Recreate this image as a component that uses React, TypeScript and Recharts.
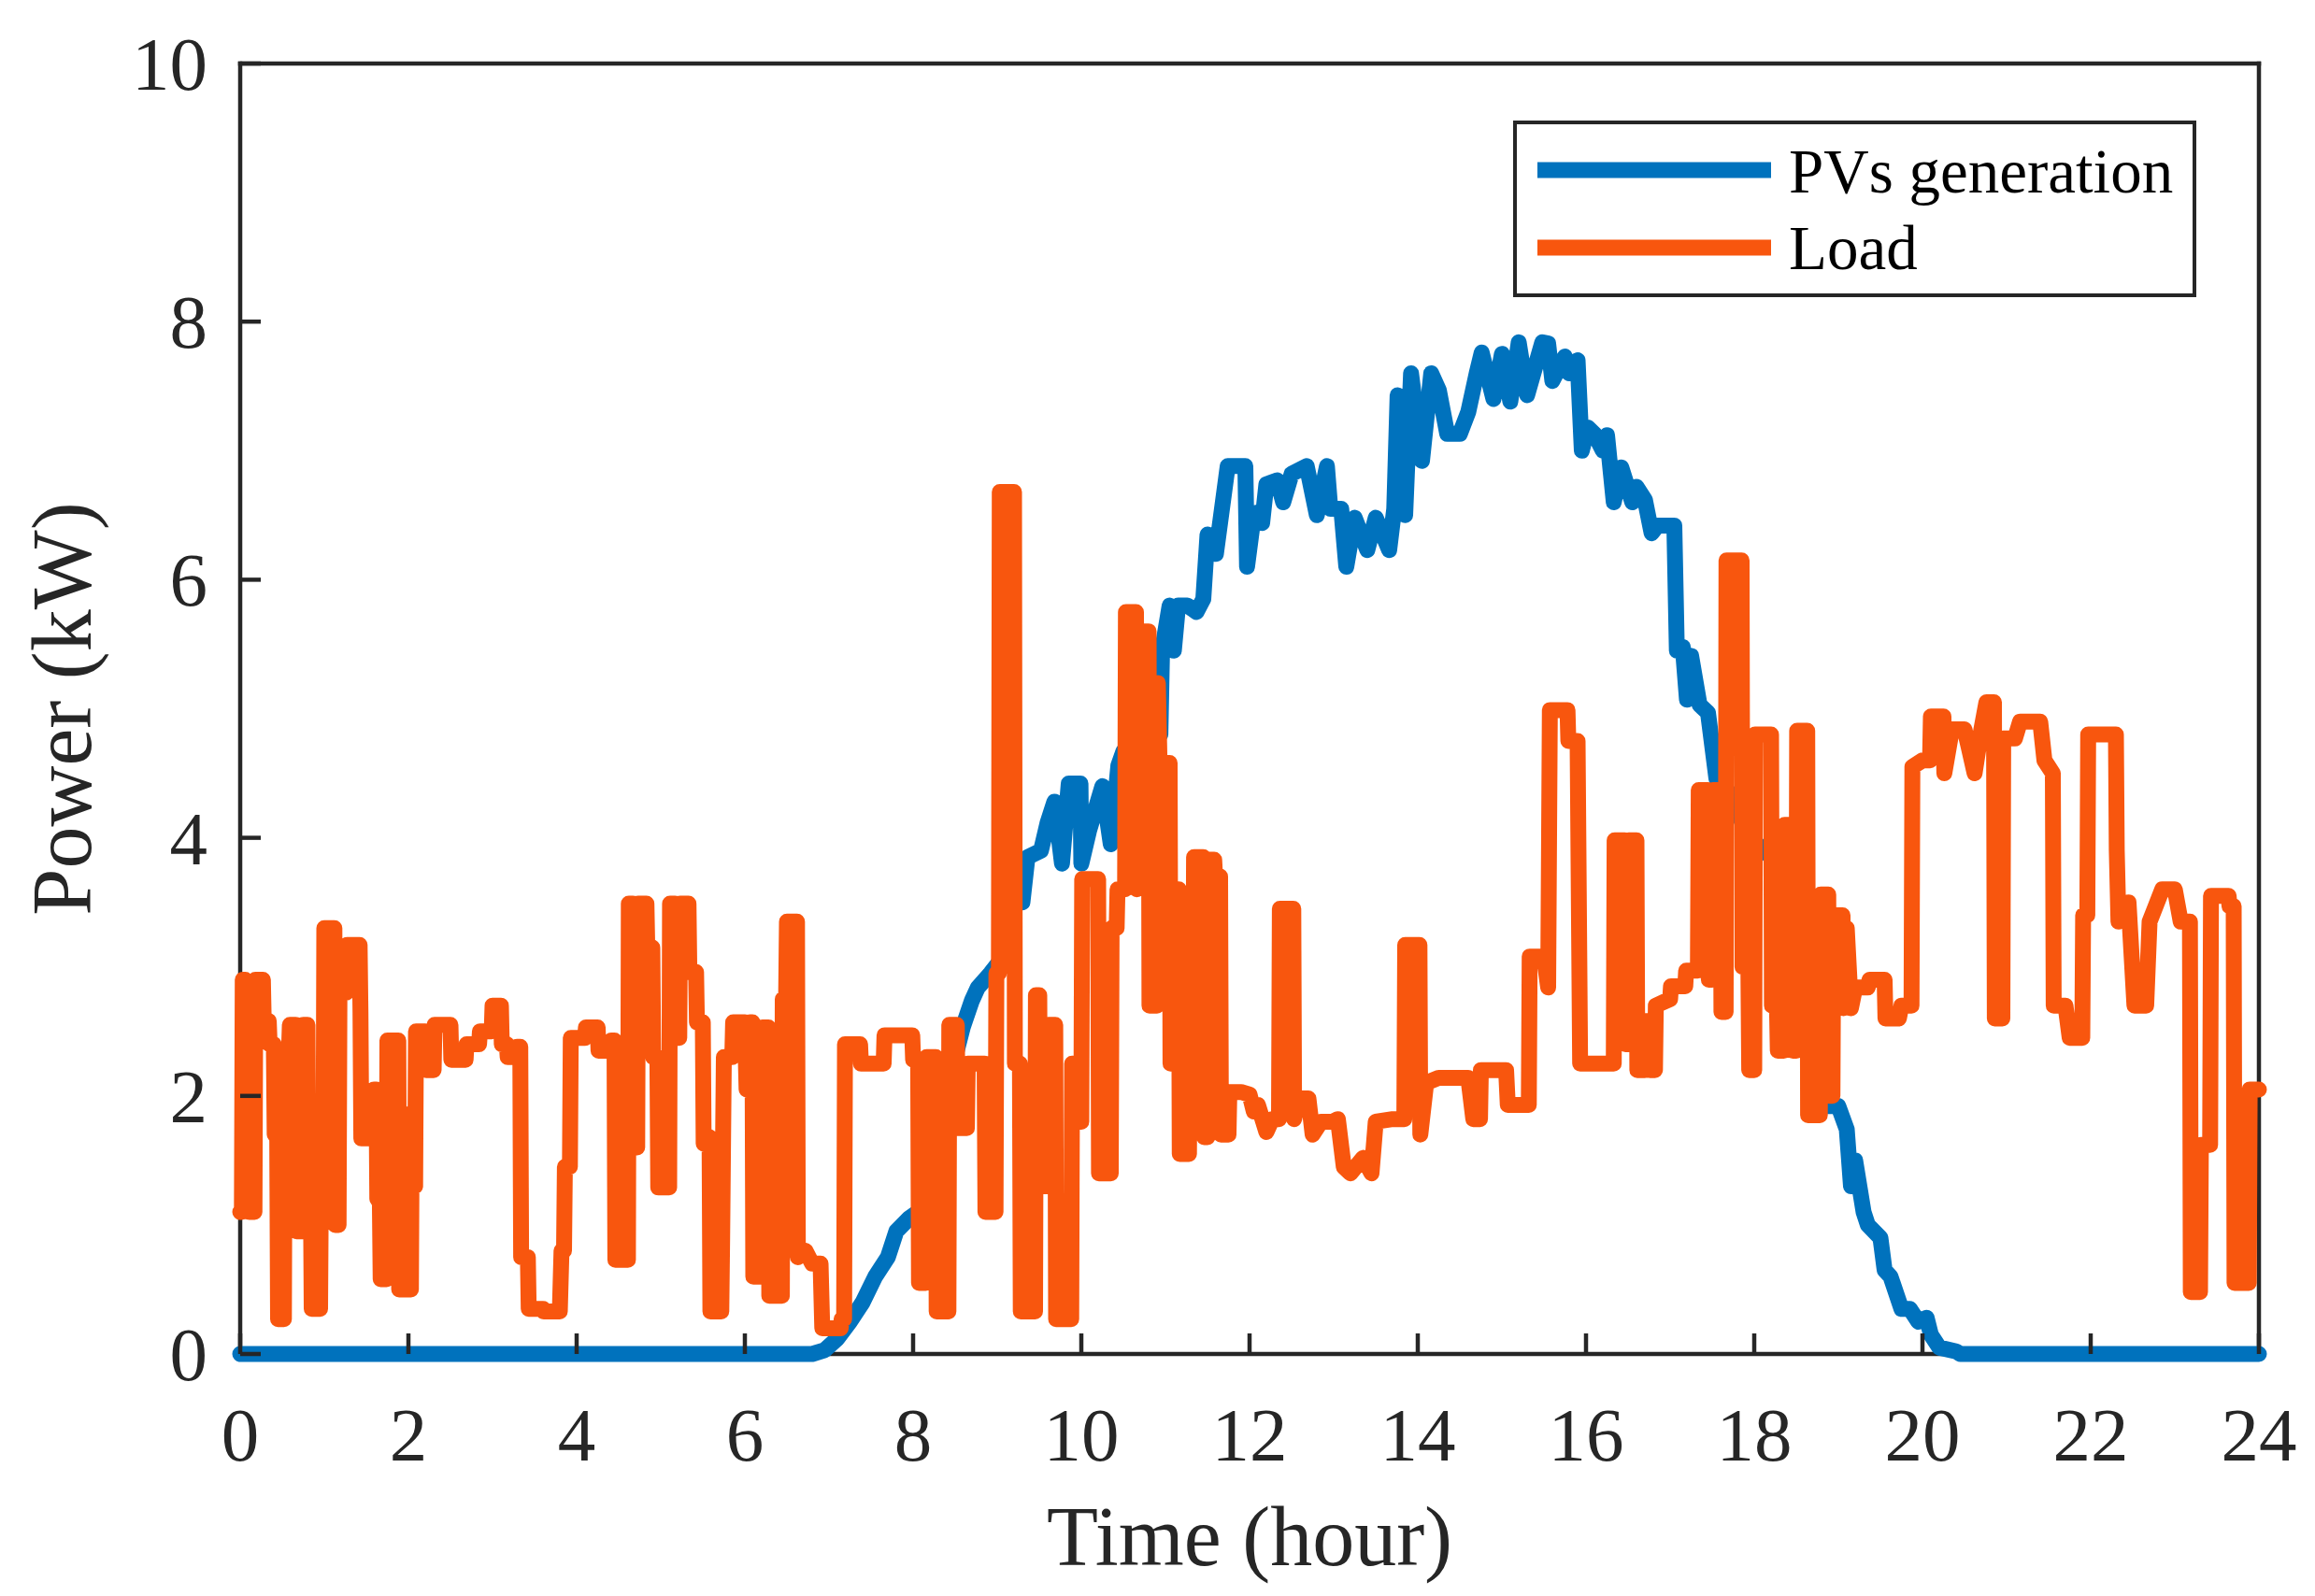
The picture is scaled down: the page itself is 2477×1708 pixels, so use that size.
import React from 'react';
import { LineChart, Line, XAxis, YAxis } from 'recharts';

// axis ticks
const hourTicks = [0, 2, 4, 6, 8, 10, 12, 14, 16, 18, 20, 22, 24];
const kwTicks = [0, 2, 4, 6, 8, 10];

// series
const seriesNames = ['PVs generation', 'Load'];
const seriesColors = ['#0072BD', '#F8560E'];

// PV generation (kW) vs time (hour)
const pvHours = [
  0, 6.8, 6.95, 7.1, 7.25, 7.4, 7.55, 7.7, 7.8, 7.95, 8.1, 8.2, 8.35, 8.5, 8.59, 8.7, 8.77, 8.92,
  9.1, 9.25, 9.3, 9.36, 9.52, 9.6, 9.68, 9.77, 9.85, 9.99, 10.0, 10.09, 10.25, 10.35, 10.44, 10.5,
  10.7, 10.94, 10.96, 11.05, 11.1, 11.15, 11.26, 11.37, 11.45, 11.5, 11.6, 11.74, 11.95, 11.97,
  12.05, 12.09, 12.15, 12.2, 12.33, 12.4, 12.5, 12.68, 12.8, 12.92, 12.96, 13.09, 13.15, 13.25,
  13.4, 13.5, 13.66, 13.72, 13.76, 13.85, 13.92, 14.05, 14.16, 14.25, 14.35, 14.5, 14.6, 14.7,
  14.76, 14.9, 15.0, 15.1, 15.2, 15.3, 15.48, 15.55, 15.6, 15.75, 15.8, 15.9, 15.95, 16.02, 16.1,
  16.2, 16.25, 16.33, 16.42, 16.55, 16.6, 16.7, 16.78, 16.85, 17.05, 17.08, 17.15, 17.2, 17.25,
  17.35, 17.45, 17.55, 17.7, 17.85, 17.95, 18.2, 18.3, 18.4, 18.55, 18.65, 18.74, 19.0, 19.1,
  19.15, 19.2, 19.3, 19.35, 19.5, 19.55, 19.62, 19.75, 19.85, 19.95, 20.05, 20.1, 20.2, 20.4,
  20.45, 24,
];
const pvKw = [
  0, 0, 0.03, 0.12, 0.25, 0.4, 0.6, 0.75, 0.95, 1.05, 1.12, 1.5, 2.0, 2.3, 2.53, 2.74, 2.84, 2.95,
  3.1, 3.6, 3.5, 3.85, 3.9, 4.12, 4.28, 3.8, 4.42, 4.42, 3.8, 4.05, 4.4, 3.95, 4.56, 4.67,
  4.78, 4.8, 5.45, 5.8, 5.45, 5.8, 5.8, 5.75, 5.85, 6.35, 6.2, 6.88, 6.88, 6.1,
  6.5, 6.52, 6.44, 6.74, 6.77, 6.6, 6.82, 6.88, 6.5, 6.88, 6.55, 6.55, 6.1, 6.48,
  6.23, 6.48, 6.23, 6.55, 7.43, 6.5, 7.6, 6.92, 7.6, 7.47, 7.13, 7.13, 7.3, 7.6,
  7.76, 7.4, 7.75, 7.38, 7.84, 7.43, 7.84, 7.83, 7.54, 7.73, 7.6, 7.7, 7.0, 7.18, 7.13,
  7.0, 7.12, 6.6, 6.87, 6.6, 6.72, 6.62, 6.36, 6.42, 6.42, 5.45, 5.48, 5.07, 5.41,
  5.03, 4.97, 4.46, 4.35, 4.13, 4.0, 3.85, 3.8, 3.3, 2.7, 2.3, 1.92, 1.92, 1.74,
  1.3, 1.5, 1.1, 1.0, 0.9, 0.65, 0.6, 0.35, 0.35, 0.25, 0.28, 0.15, 0.05, 0.02,
  0, 0,
];

// household load (kW) vs time (hour)
const loadHours = [
  0, 0.02, 0.03, 0.06, 0.07, 0.09, 0.11, 0.17, 0.18, 0.27, 0.28, 0.34, 0.35, 0.4, 0.41, 0.44,
  0.45, 0.52, 0.53, 0.58, 0.59, 0.66, 0.67, 0.74, 0.75, 0.8, 0.81, 0.84, 0.85, 0.95, 0.96, 0.99,
  1.0, 1.12, 1.13, 1.17, 1.18, 1.26, 1.27, 1.42, 1.43, 1.44, 1.58, 1.59, 1.62, 1.63, 1.66, 1.67,
  1.74, 1.75, 1.88, 1.89, 2.03, 2.04, 2.06, 2.08, 2.09, 2.2, 2.21, 2.3, 2.31, 2.5, 2.51, 2.68,
  2.69, 2.84, 2.85, 2.99, 3.0, 3.1, 3.11, 3.17, 3.18, 3.28, 3.29, 3.33, 3.34, 3.42, 3.43, 3.6,
  3.61, 3.8, 3.82, 3.85, 3.86, 3.92, 3.93, 4.1, 4.11, 4.25, 4.26, 4.4, 4.41, 4.45, 4.46, 4.61,
  4.62, 4.67, 4.68, 4.72, 4.73, 4.83, 4.84, 4.9, 4.91, 4.96, 4.97, 5.1, 5.11, 5.17, 5.18, 5.22,
  5.23, 5.33, 5.34, 5.42, 5.43, 5.5, 5.51, 5.58, 5.59, 5.72, 5.73, 5.75, 5.85, 5.86, 6.0, 6.02,
  6.05, 6.06, 6.09, 6.1, 6.2, 6.21, 6.28, 6.29, 6.44, 6.45, 6.49, 6.5, 6.62, 6.63, 6.72, 6.8,
  6.9, 6.92, 7.14, 7.15, 7.18, 7.19, 7.37, 7.38, 7.65, 7.66, 7.99, 8.0, 8.06, 8.07, 8.15, 8.16,
  8.27, 8.28, 8.42, 8.43, 8.52, 8.53, 8.64, 8.65, 8.85, 8.86, 8.98, 8.99, 9.02, 9.03, 9.2, 9.21,
  9.27, 9.28, 9.45, 9.46, 9.5, 9.51, 9.6, 9.61, 9.69, 9.7, 9.88, 9.89, 9.95, 9.96, 10.0, 10.01,
  10.2, 10.21, 10.35, 10.36, 10.42, 10.43, 10.52, 10.53, 10.65, 10.66, 10.68, 10.8, 10.81, 10.9,
  10.91, 10.93, 11.05, 11.06, 11.12, 11.13, 11.16, 11.17, 11.28, 11.29, 11.33, 11.34, 11.45,
  11.46, 11.5, 11.51, 11.58, 11.59, 11.65, 11.66, 11.75, 11.76, 11.9, 12.0, 12.05, 12.1, 12.2,
  12.27, 12.35, 12.36, 12.52, 12.53, 12.58, 12.7, 12.75, 12.85, 12.99, 13.05, 13.12, 13.2, 13.35,
  13.45, 13.5, 13.7, 13.84, 13.85, 14.02, 14.03, 14.1, 14.25, 14.6, 14.66, 14.74, 14.75, 15.05,
  15.07, 15.32, 15.33, 15.5, 15.55, 15.57, 15.78, 15.79, 15.9, 15.93, 16.33, 16.34, 16.46, 16.47,
  16.5, 16.51, 16.6, 16.61, 16.7, 16.71, 16.75, 16.76, 16.82, 16.83, 17.0, 17.01, 17.18, 17.19,
  17.33, 17.34, 17.45, 17.46, 17.5, 17.51, 17.6, 17.61, 17.66, 17.67, 17.85, 17.86, 17.93, 17.94,
  18.0, 18.01, 18.2, 18.21, 18.27, 18.28, 18.35, 18.36, 18.45, 18.46, 18.5, 18.51, 18.63, 18.64,
  18.78, 18.79, 18.88, 18.89, 18.93, 18.94, 19.05, 19.06, 19.1, 19.15, 19.2, 19.35, 19.37, 19.55,
  19.56, 19.72, 19.75, 19.87, 19.88, 20.0, 20.09, 20.1, 20.25, 20.26, 20.35, 20.5, 20.55, 20.62,
  20.7, 20.76, 20.85, 20.86, 20.95, 20.96, 21.1, 21.16, 21.4, 21.45, 21.55, 21.56, 21.7, 21.75,
  21.9, 21.91, 21.96, 21.97, 22.3, 22.31, 22.33, 22.45, 22.52, 22.66, 22.7, 22.76, 22.85, 23.0,
  23.07, 23.18, 23.19, 23.3, 23.31, 23.42, 23.43, 23.64, 23.65, 23.7, 23.71, 23.88, 23.89, 24.0,
];
const loadKw = [
  1.1, 1.1, 2.9, 2.9, 1.7, 2.5, 1.1, 1.1, 2.9, 2.9, 2.58, 2.58, 2.4, 2.4, 1.7, 1.7,
  0.27, 0.27, 2.35, 2.35, 2.55, 2.55, 0.95, 0.95, 2.55, 2.55, 1.3, 1.3, 0.35, 0.35, 1.4, 1.4,
  3.3, 3.3, 1.0, 1.0, 2.8, 2.8, 3.17, 3.17, 2.65, 1.67, 1.67, 2.05, 2.05, 1.2, 1.2, 0.58,
  0.58, 2.43, 2.43, 0.5, 0.5, 1.87, 1.3, 1.3, 2.5, 2.5, 2.2, 2.2, 2.55, 2.55, 2.28, 2.28,
  2.4, 2.4, 2.5, 2.5, 2.7, 2.7, 2.4, 2.4, 2.3, 2.3, 2.38, 2.38, 0.75, 0.75, 0.35, 0.35,
  0.33, 0.33, 0.8, 0.8, 1.45, 1.45, 2.45, 2.45, 2.53, 2.53, 2.35, 2.35, 2.43, 2.43, 0.73, 0.73,
  3.49, 3.49, 1.6, 1.6, 3.49, 3.49, 3.15, 3.15, 2.3, 2.3, 1.29, 1.29, 3.49, 3.49, 2.45, 2.45,
  3.49, 3.49, 2.96, 2.96, 2.57, 2.57, 1.63, 1.68, 0.33, 0.33, 0.9, 2.3, 2.3, 2.57, 2.57, 2.05,
  2.05, 2.57, 2.57, 0.6, 0.6, 2.53, 2.53, 0.45, 0.45, 2.75, 2.75, 3.35, 3.35, 0.75, 0.8, 0.7,
  0.7, 0.2, 0.2, 0.27, 0.27, 2.4, 2.4, 2.25, 2.25, 2.47, 2.47, 2.28, 2.28, 0.55, 0.55, 2.3,
  2.3, 0.33, 0.33, 2.55, 2.55, 1.75, 1.75, 2.25, 2.25, 1.1, 1.1, 2.95, 2.95, 6.68, 6.68, 2.25,
  2.25, 0.33, 0.33, 2.78, 2.78, 1.3, 1.3, 2.55, 2.55, 0.27, 0.27, 2.25, 2.25, 1.8, 1.8, 3.68,
  3.68, 1.4, 1.4, 3.3, 3.3, 3.6, 3.6, 5.75, 5.75, 3.6, 5.6, 5.6, 2.7, 2.7,
  5.2, 4.58, 4.58, 2.25, 2.25, 3.6, 3.6, 1.55, 1.55, 2.5, 2.5, 3.85, 3.85,
  1.68, 1.68, 3.83, 3.83, 3.7, 3.7, 1.7, 1.7, 2.03, 2.03, 2.01, 1.88, 1.93, 1.72,
  1.82, 1.82, 3.45, 3.45, 1.82, 1.98, 1.98, 1.7, 1.8, 1.8, 1.82, 1.45, 1.4, 1.52,
  1.4, 1.8, 1.82, 1.82, 3.17, 3.17, 1.7, 2.1, 2.14, 2.14, 1.82, 1.82, 2.2, 2.2,
  1.93, 1.93, 3.08, 3.08, 2.84, 4.99, 4.99, 4.75, 4.75, 2.25, 2.25, 3.98, 3.98, 2.4,
  2.4, 3.98, 3.98, 2.2, 2.2, 2.58, 2.58, 2.2, 2.2, 2.7, 2.75, 2.85, 2.85, 2.97,
  2.97, 4.37, 4.37, 2.9, 2.9, 4.37, 4.37, 2.65, 2.65, 6.15, 6.15, 3.0, 3.0, 2.2,
  2.2, 4.8, 4.8, 2.7, 2.7, 2.35, 2.35, 4.1, 4.1, 2.35, 2.35, 4.83, 4.83, 1.85,
  1.85, 3.56, 3.56, 2.0, 2.0, 3.4, 3.4, 2.68, 3.3, 2.68, 2.84, 2.84, 2.9, 2.9,
  2.6, 2.6, 2.7, 2.7, 4.55, 4.6, 4.6, 4.94, 4.94, 4.5, 4.84, 4.84, 4.7, 4.5,
  4.84, 5.05, 5.05, 2.6, 2.6, 4.77, 4.77, 4.9, 4.9, 4.6, 4.5, 2.7, 2.7, 2.45,
  2.45, 3.4, 3.4, 4.8, 4.8, 3.9, 3.35, 3.5, 2.7, 2.7, 3.35, 3.45, 3.6, 3.6,
  3.35, 3.35, 0.48, 0.48, 1.62, 1.62, 3.55, 3.55, 3.47, 3.47, 0.55, 0.55, 2.05, 2.05,
];

const pvData = pvHours.map((t, i) => ({ t, v: pvKw[i] }));
const loadData = loadHours.map((t, i) => ({ t, v: loadKw[i] }));
const seriesData = [pvData, loadData];

const W = 2461;
const H = 1692;
const FONT = '"Liberation Serif", "Times New Roman", Times, serif';
const INK = '#262626';
const TICK_LEN = 22;
const AXIS_W = 4.5;
const TICK_FONT = 81;
const TITLE_FONT = 90;
const LINE_W = 17;

function BottomTick({ x, y, payload }: any) {
  return (
    <g>
      <line x1={x} x2={x} y1={y} y2={y - TICK_LEN} stroke={INK} strokeWidth={AXIS_W} />
      <text x={x} y={y + 114} textAnchor="middle" fontSize={TICK_FONT} fontFamily={FONT} fill={INK}>
        {payload.value}
      </text>
    </g>
  );
}

function TopTick({ x, y }: any) {
  return <line x1={x} x2={x} y1={y} y2={y + TICK_LEN} stroke={INK} strokeWidth={AXIS_W} />;
}

function LeftTick({ x, y, payload }: any) {
  return (
    <g>
      <line x1={x} x2={x + TICK_LEN} y1={y} y2={y} stroke={INK} strokeWidth={AXIS_W} />
      <text x={x - 35} y={y + 28} textAnchor="end" fontSize={TICK_FONT} fontFamily={FONT} fill={INK}>
        {payload.value}
      </text>
    </g>
  );
}

function RightTick({ x, y }: any) {
  return <line x1={x} x2={x - TICK_LEN} y1={y} y2={y} stroke={INK} strokeWidth={AXIS_W} />;
}

function XTitle({ viewBox }: any) {
  return (
    <text
      x={viewBox.x + viewBox.width / 2}
      y={viewBox.y + 226}
      textAnchor="middle"
      fontSize={TITLE_FONT}
      fontFamily={FONT}
      fill={INK}
    >
      Time (hour)
    </text>
  );
}

function YTitle({ viewBox }: any) {
  const cx = viewBox.x + viewBox.width - 160;
  const cy = viewBox.y + viewBox.height / 2;
  return (
    <text
      x={cx}
      y={cy}
      transform={`rotate(-90, ${cx}, ${cy})`}
      textAnchor="middle"
      fontSize={TITLE_FONT}
      fontFamily={FONT}
      fill={INK}
    >
      Power (kW)
    </text>
  );
}

function LegendBox() {
  return (
    <svg
      width={731}
      height={189}
      style={{ position: 'absolute', left: 1611, top: 121, overflow: 'visible' }}
    >
      <rect x={2} y={2} width={727} height={185} fill="#fff" stroke={INK} strokeWidth={4} />
      {seriesNames.map((name, i) => (
        <g key={name}>
          <line x1={26} x2={276} y1={53 + i * 83} y2={53 + i * 83} stroke={seriesColors[i]} strokeWidth={LINE_W} />
          <text x={295} y={77 + i * 82} fontSize={67} fontFamily={FONT} fill="#000">
            {name}
          </text>
        </g>
      ))}
    </svg>
  );
}

export default function App() {
  const axisLine = { stroke: INK, strokeWidth: AXIS_W, strokeLinecap: 'square' as const };
  return (
    <div style={{ position: 'relative', width: W, height: H, fontFamily: FONT, background: '#fff' }}>
      <LineChart width={W} height={H} margin={{ top: 59, right: 51, bottom: 250, left: 248 }}>
        <XAxis
          xAxisId="x"
          dataKey="t"
          type="number"
          domain={[0, 24]}
          ticks={hourTicks}
          interval={0}
          height={1}
          tickSize={0}
          tickMargin={0}
          tickLine={false}
          axisLine={axisLine}
          tick={BottomTick}
          label={XTitle}
        />
        <XAxis
          xAxisId="top"
          orientation="top"
          dataKey="t"
          type="number"
          domain={[0, 24]}
          ticks={hourTicks}
          interval={0}
          height={1}
          tickSize={0}
          tickMargin={0}
          tickLine={false}
          axisLine={axisLine}
          tick={TopTick}
        />
        <YAxis
          yAxisId="y"
          type="number"
          domain={[0, 10]}
          ticks={kwTicks}
          interval={0}
          width={1}
          tickSize={0}
          tickMargin={0}
          tickLine={false}
          axisLine={axisLine}
          tick={LeftTick}
          label={YTitle}
        />
        <YAxis
          yAxisId="right"
          orientation="right"
          type="number"
          domain={[0, 10]}
          ticks={kwTicks}
          interval={0}
          width={1}
          tickSize={0}
          tickMargin={0}
          tickLine={false}
          axisLine={axisLine}
          tick={RightTick}
        />
        {seriesNames.map((name, i) => (
          <Line
            key={name}
            name={name}
            data={seriesData[i]}
            dataKey="v"
            xAxisId="x"
            yAxisId="y"
            type="linear"
            stroke={seriesColors[i]}
            strokeWidth={LINE_W}
            strokeLinejoin="round"
            strokeLinecap="round"
            dot={false}
            activeDot={false}
            isAnimationActive={false}
            zIndex={600 + i}
          />
        ))}
      </LineChart>
      <LegendBox />
    </div>
  );
}
